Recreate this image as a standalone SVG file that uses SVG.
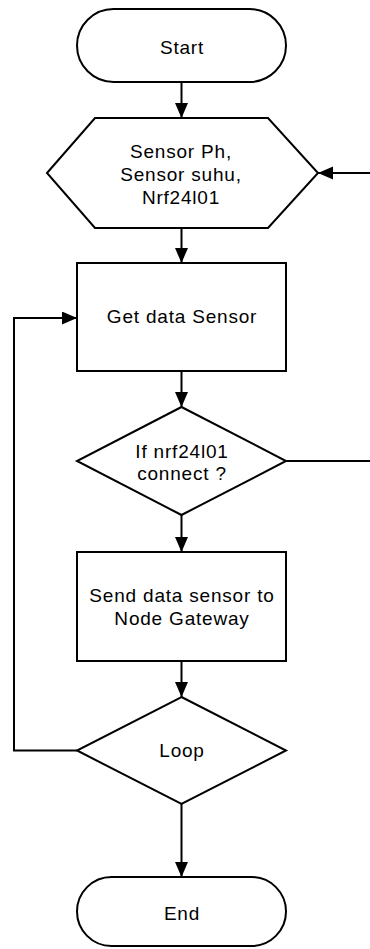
<svg xmlns="http://www.w3.org/2000/svg" width="370" height="949" viewBox="0 0 370 949">
<style>
.s{fill:#fff;stroke:#000;stroke-width:2}
.t{font-family:"Liberation Sans",Arial,sans-serif;font-size:19px;fill:#000;text-anchor:middle;letter-spacing:0.8px}
.c{fill:none;stroke:#000;stroke-width:2}
</style>
<defs>
<marker id="ah" markerUnits="userSpaceOnUse" markerWidth="16" markerHeight="14" refX="15" refY="6.5" orient="auto">
<path d="M0,0 L15,6.5 L0,13 z" fill="#000"/>
</marker>
</defs>
<rect width="370" height="949" fill="#fff"/>
<g id="connectors">
<line class="c" x1="181.5" y1="82" x2="181.5" y2="118" marker-end="url(#ah)"/>
<line class="c" x1="370" y1="173" x2="318" y2="173" marker-end="url(#ah)"/>
<line class="c" x1="181.5" y1="228" x2="181.5" y2="263" marker-end="url(#ah)"/>
<line class="c" x1="181.5" y1="371" x2="181.5" y2="407" marker-end="url(#ah)"/>
<line class="c" x1="286" y1="461" x2="370" y2="461"/>
<line class="c" x1="181.5" y1="515" x2="181.5" y2="552" marker-end="url(#ah)"/>
<line class="c" x1="181.5" y1="661" x2="181.5" y2="697" marker-end="url(#ah)"/>
<polyline class="c" points="77,750.5 14,750.5 14,318 77,318" marker-end="url(#ah)"/>
<line class="c" x1="181.5" y1="804" x2="181.5" y2="877" marker-end="url(#ah)"/>
</g>
<g id="start">
<rect class="s" x="77" y="9" width="209" height="73" rx="36.5"/>
<text class="t" x="182" y="54">Start</text>
</g>
<g id="sensors">
<polygon class="s" points="47,173 95,118 268,118 318,173 268,228 95,228"/>
<text class="t" x="181" y="158">Sensor Ph,</text>
<text class="t" x="181" y="181">Sensor suhu,</text>
<text class="t" x="181" y="204">Nrf24l01</text>
</g>
<g id="getdata">
<rect class="s" x="77" y="263" width="209" height="108"/>
<text class="t" x="182" y="323">Get data Sensor</text>
</g>
<g id="decision">
<polygon class="s" points="181.5,407 286,461 181.5,515 77,461"/>
<text class="t" x="182" y="458">If nrf24l01</text>
<text class="t" x="182" y="480">connect ?</text>
</g>
<g id="send">
<rect class="s" x="77" y="552" width="209" height="109"/>
<text class="t" x="182" y="602">Send data sensor to</text>
<text class="t" x="182" y="625">Node Gateway</text>
</g>
<g id="loop">
<polygon class="s" points="181.5,697 286,750.5 181.5,804 77,750.5"/>
<text class="t" x="182" y="757">Loop</text>
</g>
<g id="end">
<rect class="s" x="77" y="877" width="209" height="69" rx="34.5"/>
<text class="t" x="182" y="920">End</text>
</g>
</svg>
